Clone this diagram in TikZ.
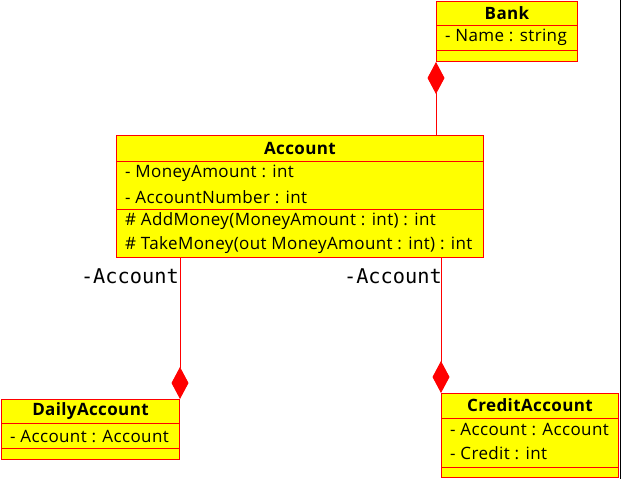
\documentclass[tikz,border=0pt]{standalone}
\usepackage{fontspec}
\setmainfont{Open Sans}[LetterSpace=2.2]
\newfontfamily\rolemono{DejaVu Sans Mono}
\usepackage{tikz}
\usetikzlibrary{arrows.meta, positioning, calc}
\definecolor{umlyellow}{RGB}{255,255,0}
\definecolor{umlred}{RGB}{255,0,0}
\tikzstyle{classbox} = [rectangle, draw=umlred, fill=umlyellow, line width=1pt, inner sep=0pt, anchor=north west]
\tikzstyle{classname} = [inner sep=0pt, font=\fontsize{17}{19}\selectfont\bfseries]
\tikzstyle{member} = [inner sep=0pt, anchor=west, font=\fontsize{17}{19}\selectfont]
\tikzstyle{rolename} = [inner sep=0pt, anchor=base east, font=\fontsize{20.3}{22}\selectfont\rolemono]
\tikzstyle{sep} = [draw=umlred, line width=1pt]
\tikzstyle{comp} = [draw=umlred, line width=1pt, -{Diamond[fill=umlred, length=32pt, width=17pt]}]

\begin{document}
\begin{tikzpicture}[x=1pt, y=-1pt]
    \useasboundingbox (0,0) rectangle (621,479);

    % Bank
    \node[classbox, minimum width=141pt, minimum height=60pt] (bank) at (436,1) {};
    \node[classname] (bankname) at ($(bank.north)+(0,12)$) {Bank};
    \node[member] (bankattr) at (445,37.5) {- Name : string};
    \draw[sep] (436,25) -- (577,25);
    \draw[sep] (436,50) -- (577,50);

    % Account
    \node[classbox, minimum width=367pt, minimum height=122pt] (account) at (116,135) {};
    \node[classname] (accname) at ($(account.north)+(0,13)$) {Account};
    \node[member] (accattra) at (125,173.5) {- MoneyAmount : int};
    \node[member] (accattrb) at (125,197.5) {- AccountNumber : int};
    \node[member] (accopa) at (125,221.5) {\# AddMoney(MoneyAmount : int) : int};
    \node[member] (accopb) at (125,245.5) {\# TakeMoney(out MoneyAmount : int) : int};
    \draw[sep] (116,161) -- (483,161);
    \draw[sep] (116,209) -- (483,209);

    % DailyAccount
    \node[classbox, minimum width=178pt, minimum height=60pt] (daily) at (1,399) {};
    \node[classname] (dailyname) at ($(daily.north)+(0,12)$) {DailyAccount};
    \node[member] (dailyattr) at (10,436.5) {- Account : Account};
    \draw[sep] (1,423) -- (179,423);
    \draw[sep] (1,448) -- (179,448);

    % CreditAccount
    \node[classbox, minimum width=177pt, minimum height=84pt] (credit) at (441,393) {};
    \node[classname] (creditname) at ($(credit.north)+(0,12)$) {CreditAccount};
    \node[member] (creditattra) at (450,429.5) {- Account : Account};
    \node[member] (creditattrb) at (450,453.5) {- Credit : int};
    \draw[sep] (441,418) -- (618,418);
    \draw[sep] (441,467) -- (618,467);

    % compositions
    \draw[comp] (account.north -| bank.south west) -- (bank.south west);
    \draw[comp] (account.south -| daily.north east) -- (daily.north east);
    \draw[comp] (account.south -| credit.north west) -- (credit.north west);

    % role names
    \node[rolename] (dailyrole) at (179,283) {-Account};
    \node[rolename] (creditrole) at (442,283) {-Account};

    % right edge
    \draw[black, line width=1pt] (620,0) -- (620,479);
\end{tikzpicture}
\end{document}
